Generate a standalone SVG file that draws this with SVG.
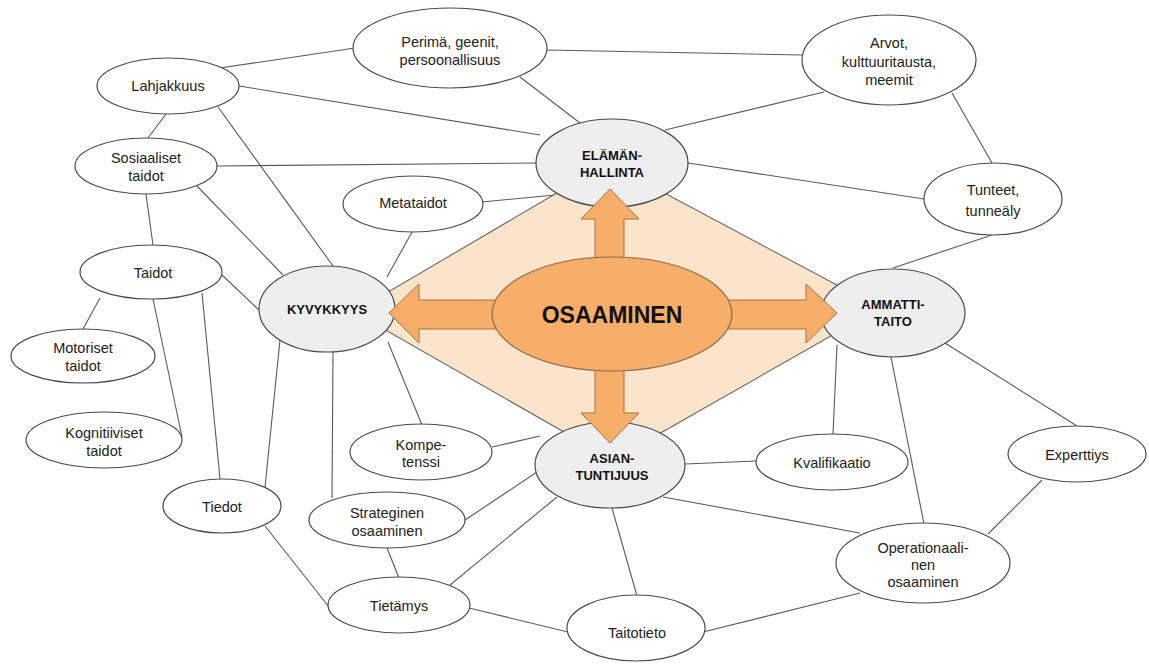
<svg xmlns="http://www.w3.org/2000/svg" width="1149" height="669" viewBox="0 0 1149 669">
<style>
.bg{fill:#ffffff}
.e{fill:#ffffff;stroke:#4a4a4a;stroke-width:1.2}
.g{fill:#eeeeee;stroke:#4a4a4a;stroke-width:1.2}
.c line{stroke:#5a5a5a;stroke-width:1.1}
.t{font-family:"Liberation Sans",Arial,sans-serif;font-size:14.5px;fill:#222;text-anchor:middle}
.b{font-family:"Liberation Sans",Arial,sans-serif;font-size:13px;font-weight:bold;fill:#111;text-anchor:middle}
.arrow{fill:#f6ae6a;stroke:#a8733f;stroke-width:1}
</style>
<rect class="bg" width="1149" height="669"/>
<g id="connectors" class="c">
<line x1="220" y1="68" x2="355" y2="48"/>
<line x1="239" y1="86" x2="540" y2="135"/>
<line x1="166" y1="114" x2="148" y2="138"/>
<line x1="218" y1="107" x2="333" y2="266"/>
<line x1="547" y1="50" x2="802" y2="55"/>
<line x1="520" y1="77" x2="580" y2="123"/>
<line x1="824" y1="92" x2="665" y2="130"/>
<line x1="952" y1="93" x2="992" y2="163"/>
<line x1="688" y1="163" x2="924" y2="199"/>
<line x1="217" y1="166" x2="536" y2="163"/>
<line x1="197" y1="186" x2="283" y2="275"/>
<line x1="146" y1="194" x2="153" y2="245"/>
<line x1="482" y1="202" x2="555" y2="195"/>
<line x1="412" y1="232" x2="387" y2="277"/>
<line x1="222" y1="275" x2="259" y2="310"/>
<line x1="100" y1="298" x2="83" y2="329"/>
<line x1="153" y1="299" x2="182" y2="437"/>
<line x1="202" y1="293" x2="220" y2="479"/>
<line x1="280" y1="340" x2="265" y2="487"/>
<line x1="333" y1="352" x2="332" y2="498"/>
<line x1="388" y1="342" x2="422" y2="425"/>
<line x1="492" y1="447" x2="540" y2="436"/>
<line x1="465" y1="520" x2="540" y2="470"/>
<line x1="387" y1="548" x2="399" y2="578"/>
<line x1="450" y1="585" x2="557" y2="497"/>
<line x1="265" y1="526" x2="329" y2="607"/>
<line x1="469" y1="608" x2="568" y2="632"/>
<line x1="612" y1="508" x2="637" y2="596"/>
<line x1="685" y1="464" x2="756" y2="461"/>
<line x1="663" y1="497" x2="860" y2="533"/>
<line x1="703" y1="632" x2="860" y2="593"/>
<line x1="837" y1="345" x2="833" y2="434"/>
<line x1="891" y1="357" x2="924" y2="524"/>
<line x1="945" y1="343" x2="1077" y2="426"/>
<line x1="1042" y1="480" x2="988" y2="534"/>
<line x1="992" y1="235" x2="893" y2="268"/>
</g>
<polygon id="diamond" points="608,163 880,308 613,460 354,312" fill="#fce4ca" stroke="#6a6a6a" stroke-width="1.1"/>
<g id="perima"><ellipse class="e" cx="450" cy="48" rx="97" ry="40"/><text class="t" x="450" y="47">Perimä, geenit,</text><text class="t" x="450" y="65">persoonallisuus</text></g>
<g id="arvot"><ellipse class="e" cx="889" cy="60" rx="87" ry="45"/><text class="t" x="889" y="48">Arvot,</text><text class="t" x="889" y="67">kulttuuritausta,</text><text class="t" x="889" y="85">meemit</text></g>
<g id="tunteet"><ellipse class="e" cx="993" cy="199" rx="69" ry="36"/><text class="t" x="993" y="195">Tunteet,</text><text class="t" x="993" y="216">tunneäly</text></g>
<g id="lahjakkuus"><ellipse class="e" cx="168" cy="86" rx="71" ry="28"/><text class="t" x="168" y="91">Lahjakkuus</text></g>
<g id="sosiaaliset"><ellipse class="e" cx="146" cy="166" rx="71" ry="28"/><text class="t" x="146" y="163">Sosiaaliset</text><text class="t" x="146" y="181">taidot</text></g>
<g id="taidot"><ellipse class="e" cx="151" cy="272" rx="71" ry="27"/><text class="t" x="153" y="278">Taidot</text></g>
<g id="motoriset"><ellipse class="e" cx="83" cy="356" rx="72" ry="27"/><text class="t" x="83" y="353">Motoriset</text><text class="t" x="83" y="371">taidot</text></g>
<g id="kognitiiviset"><ellipse class="e" cx="104" cy="440" rx="78" ry="28"/><text class="t" x="104" y="438">Kognitiiviset</text><text class="t" x="104" y="456">taidot</text></g>
<g id="metataidot"><ellipse class="e" cx="413" cy="204" rx="70" ry="28"/><text class="t" x="413" y="208">Metataidot</text></g>
<g id="kompetenssi"><ellipse class="e" cx="421" cy="452" rx="71" ry="28"/><text class="t" x="421" y="450">Kompe-</text><text class="t" x="421" y="467">tenssi</text></g>
<g id="tiedot"><ellipse class="e" cx="222" cy="506" rx="59" ry="27"/><text class="t" x="222" y="512">Tiedot</text></g>
<g id="strateginen"><ellipse class="e" cx="387" cy="520" rx="78" ry="28"/><text class="t" x="387" y="518">Strateginen</text><text class="t" x="387" y="536">osaaminen</text></g>
<g id="tietamys"><ellipse class="e" cx="399" cy="605" rx="71" ry="28"/><text class="t" x="399" y="611">Tietämys</text></g>
<g id="taitotieto"><ellipse class="e" cx="636" cy="628" rx="69" ry="33"/><text class="t" x="637" y="638">Taitotieto</text></g>
<g id="kvalifikaatio"><ellipse class="e" cx="832" cy="462" rx="76" ry="28"/><text class="t" x="832" y="468">Kvalifikaatio</text></g>
<g id="experttiys"><ellipse class="e" cx="1077" cy="454" rx="69" ry="28"/><text class="t" x="1077" y="460">Experttiys</text></g>
<g id="operationaalinen"><ellipse class="e" cx="923" cy="563" rx="87" ry="40"/><text class="t" x="923" y="553">Operationaali-</text><text class="t" x="923" y="570">nen</text><text class="t" x="923" y="587">osaaminen</text></g>
<g id="kyvykkyys"><ellipse class="g" cx="327" cy="309" rx="68" ry="43"/><text class="b" x="327" y="314">KYVYKKYYS</text></g>
<g id="elamanhallinta"><ellipse class="g" cx="612" cy="163" rx="76" ry="44"/><text class="b" x="612" y="160">ELÄMÄN-</text><text class="b" x="612" y="177">HALLINTA</text></g>
<g id="asiantuntijuus"><ellipse class="g" cx="610" cy="465" rx="75" ry="43"/><text class="b" x="612" y="463">ASIAN-</text><text class="b" x="612" y="480">TUNTIJUUS</text></g>
<g id="ammattitaito"><ellipse class="g" cx="893" cy="313" rx="72" ry="44"/><text class="b" x="893" y="309">AMMATTI-</text><text class="b" x="893" y="326">TAITO</text></g>
<g id="arrows">
<polygon class="arrow" points="595,270 595,219 581,219 610,189 639,219 624,219 624,270"/>
<polygon class="arrow" points="595,360 595,413 581,413 610,443 639,413 624,413 624,360"/>
<polygon class="arrow" points="500,300 419,300 419,284 389,313 419,343 419,329 500,329"/>
<polygon class="arrow" points="725,300 806,300 806,284 837,313 806,343 806,329 725,329"/>
</g>
<g id="osaaminen"><ellipse cx="612" cy="314" rx="120" ry="57" fill="#f6ae6a" stroke="#8a6a4a" stroke-width="1.2"/><text class="b" x="612" y="323" style="font-size:23px">OSAAMINEN</text></g>
</svg>
